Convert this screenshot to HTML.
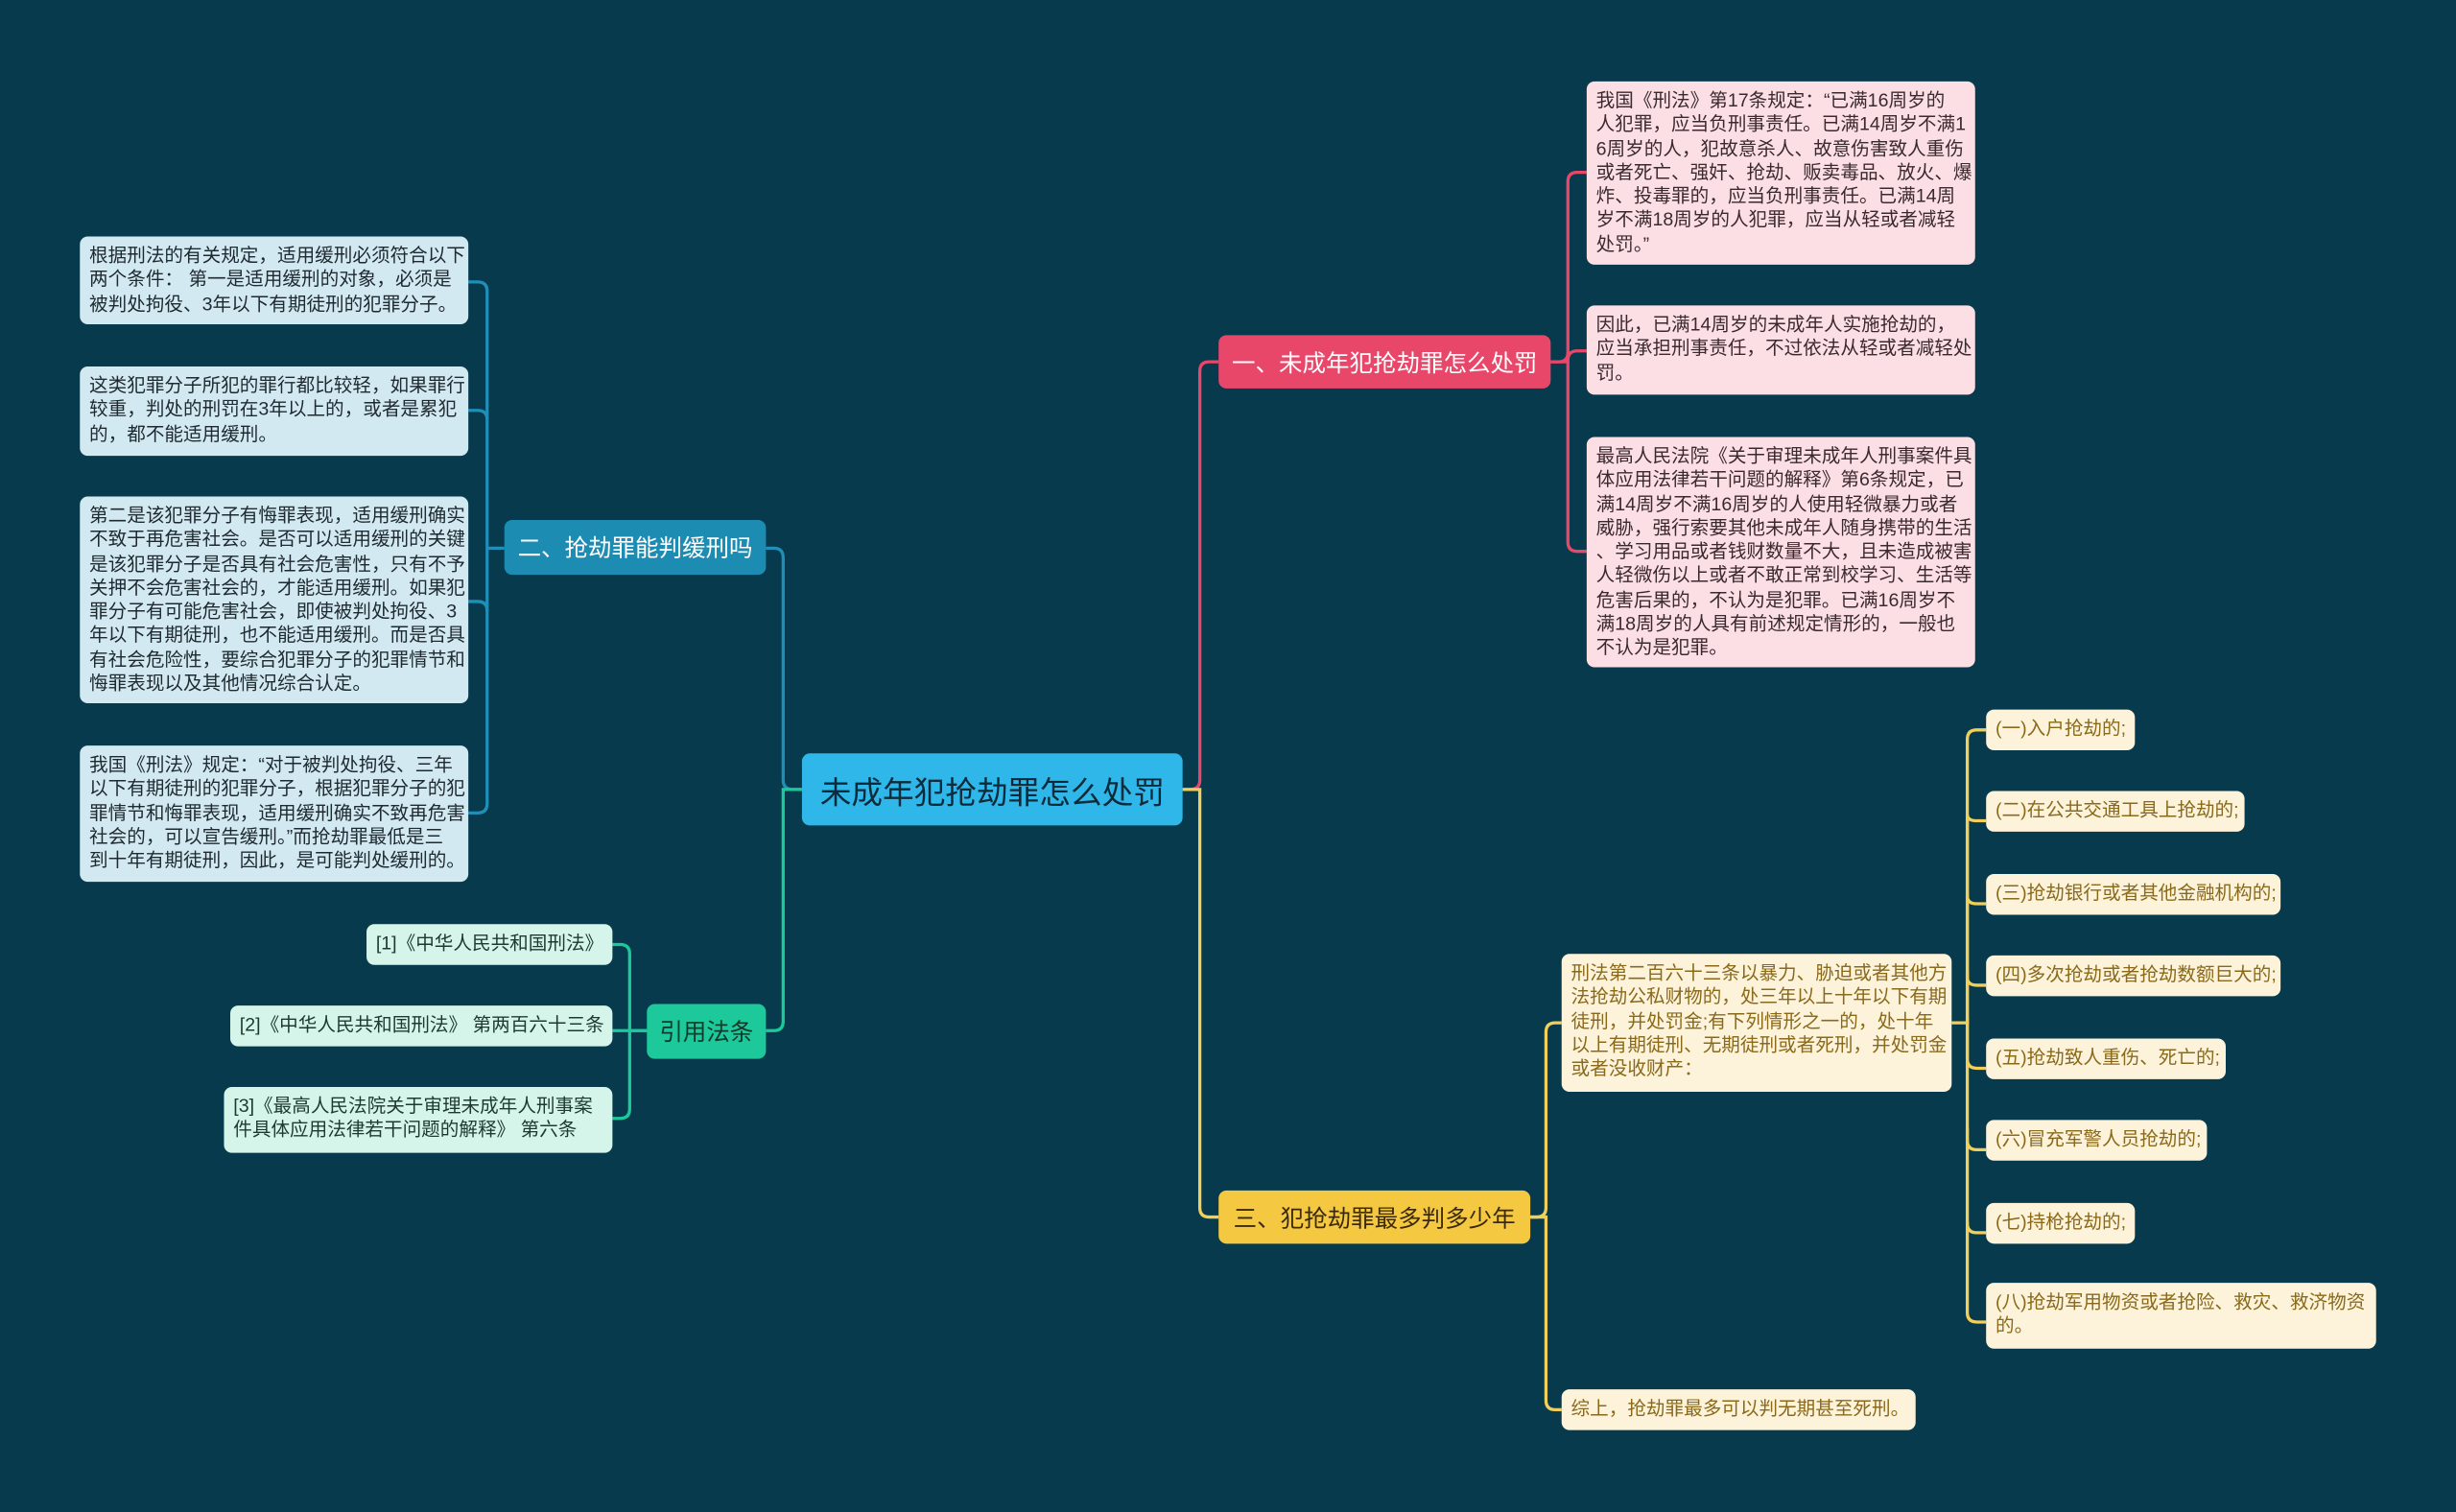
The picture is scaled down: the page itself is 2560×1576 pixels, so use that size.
<!DOCTYPE html>
<html><head><meta charset="utf-8"><style>
html,body{margin:0;padding:0;background:#073a4d;}
body{width:2560px;height:1576px;overflow:hidden;}
#s{position:absolute;left:0;top:0;width:1568px;height:965px;transform:scale(1.63265);transform-origin:0 0;font-family:"Liberation Sans","Noto Sans CJK SC",sans-serif;}
.b{position:absolute;box-sizing:border-box;border-radius:5px;white-space:nowrap;}
.t{font-size:12px;line-height:15.3px;padding:5px 6px;}
.pk{background:#fcdfe5;color:#3a2a2e;}
.bl{background:#d3e9f1;color:#1e2a30;}
.gr{background:#d6f5ea;color:#1e3a30;}
.yl{background:#fdf3da;color:#8a6a1a;}
.n{display:flex;align-items:center;justify-content:center;font-size:15px;}
</style></head><body><div id="s">
<svg width="1568" height="965" style="position:absolute;left:0;top:0" fill="none" stroke-width="2">
<g stroke="#e8476a">
<path d="M755 504 H760 Q766 504 766 498 V237 Q766 231 772 231 H778"/>
<path d="M990 231 H995 Q1001 231 1001 225 V116 Q1001 110 1007 110 H1013"/>
<path d="M1001 225 V230 Q1001 224 1007 224 H1013"/>
<path d="M990 231 H1001 V346 Q1001 352 1007 352 H1013"/>
</g>
<g stroke="#f2cf5a">
<path d="M755 504 H766 V771 Q766 777 772 777 H778"/>
<path d="M977 777 H981 Q987 777 987 771 V659 Q987 653 993 653 H997"/>
<path d="M977 777 H987 V894 Q987 900 993 900 H997"/>
<path d="M1246 653 H1256 V472 Q1256 466 1262 466 H1268"/>
<path d="M1256 520 Q1256 524 1262 524 H1268"/>
<path d="M1256 520 V572 Q1256 577 1262 577 H1268"/>
<path d="M1256 570 V624 Q1256 629 1262 629 H1268"/>
<path d="M1256 620 V676 Q1256 682 1262 682 H1268"/>
<path d="M1256 650 V728 Q1256 734 1262 734 H1268"/>
<path d="M1256 720 V781 Q1256 787 1262 787 H1268"/>
<path d="M1256 780 V838 Q1256 844 1262 844 H1268"/>
</g>
<g stroke="#1f8fb8">
<path d="M512 504 H506 Q500 504 500 498 V356 Q500 350 494 350 H489"/>
<path d="M322 350 H311 V186 Q311 180 305 180 H299"/>
<path d="M311 268 Q311 262 305 262 H299"/>
<path d="M311 390 Q311 384 305 384 H299"/>
<path d="M311 350 V513 Q311 519 305 519 H299"/>
</g>
<g stroke="#1dc99a">
<path d="M512 504 H500 V652 Q500 658 494 658 H489"/>
<path d="M413 658 H402 V609 Q402 603 396 603 H391"/>
<path d="M413 658 H391"/>
<path d="M402 658 V708 Q402 714 396 714 H391"/>
</g>
</svg>
<div class="b n" style="left:512px;top:481px;width:243px;height:46px;background:#2fb7e9;color:#0d2b3a;font-size:20px;">未成年犯抢劫罪怎么处罚</div>
<div class="b n" style="left:778px;top:214px;width:212px;height:34px;background:#e8476a;color:#fff;">一、未成年犯抢劫罪怎么处罚</div>
<div class="b n" style="left:778px;top:760px;width:199px;height:34px;background:#f5c842;color:#3a2a0a;">三、犯抢劫罪最多判多少年</div>
<div class="b n" style="left:322px;top:332px;width:167px;height:35px;background:#1c8cb3;color:#fff;">二、抢劫罪能判缓刑吗</div>
<div class="b n" style="left:413px;top:641px;width:76px;height:35px;background:#1dc99a;color:#0d3a2a;">引用法条</div>

<div class="b t pk" style="left:1013px;top:52px;width:248px;height:117px;">我国《刑法》第17条规定：“已满16周岁的<br>人犯罪，应当负刑事责任。已满14周岁不满1<br>6周岁的人，犯故意杀人、故意伤害致人重伤<br>或者死亡、强奸、抢劫、贩卖毒品、放火、爆<br>炸、投毒罪的，应当负刑事责任。已满14周<br>岁不满18周岁的人犯罪，应当从轻或者减轻<br>处罚。”</div>
<div class="b t pk" style="left:1013px;top:195px;width:248px;height:57px;">因此，已满14周岁的未成年人实施抢劫的，<br>应当承担刑事责任，不过依法从轻或者减轻处<br>罚。</div>
<div class="b t pk" style="left:1013px;top:279px;width:248px;height:147px;">最高人民法院《关于审理未成年人刑事案件具<br>体应用法律若干问题的解释》第6条规定，已<br>满14周岁不满16周岁的人使用轻微暴力或者<br>威胁，强行索要其他未成年人随身携带的生活<br>、学习用品或者钱财数量不大，且未造成被害<br>人轻微伤以上或者不敢正常到校学习、生活等<br>危害后果的，不认为是犯罪。已满16周岁不<br>满18周岁的人具有前述规定情形的，一般也<br>不认为是犯罪。</div>

<div class="b t bl" style="left:51px;top:151px;width:248px;height:56px;">根据刑法的有关规定，适用缓刑必须符合以下<br>两个条件： 第一是适用缓刑的对象，必须是<br>被判处拘役、3年以下有期徒刑的犯罪分子。</div>
<div class="b t bl" style="left:51px;top:234px;width:248px;height:57px;">这类犯罪分子所犯的罪行都比较轻，如果罪行<br>较重，判处的刑罚在3年以上的，或者是累犯<br>的，都不能适用缓刑。</div>
<div class="b t bl" style="left:51px;top:317px;width:248px;height:132px;">第二是该犯罪分子有悔罪表现，适用缓刑确实<br>不致于再危害社会。是否可以适用缓刑的关键<br>是该犯罪分子是否具有社会危害性，只有不予<br>关押不会危害社会的，才能适用缓刑。如果犯<br>罪分子有可能危害社会，即使被判处拘役、3<br>年以下有期徒刑，也不能适用缓刑。而是否具<br>有社会危险性，要综合犯罪分子的犯罪情节和<br>悔罪表现以及其他情况综合认定。</div>
<div class="b t bl" style="left:51px;top:476px;width:248px;height:87px;">我国《刑法》规定：“对于被判处拘役、三年<br>以下有期徒刑的犯罪分子，根据犯罪分子的犯<br>罪情节和悔罪表现，适用缓刑确实不致再危害<br>社会的，可以宣告缓刑。”而抢劫罪最低是三<br>到十年有期徒刑，因此，是可能判处缓刑的。</div>

<div class="b t gr" style="left:234px;top:590px;width:157px;height:26px;">[1]《中华人民共和国刑法》</div>
<div class="b t gr" style="left:147px;top:642px;width:244px;height:26px;">[2]《中华人民共和国刑法》 第两百六十三条</div>
<div class="b t gr" style="left:143px;top:694px;width:248px;height:42px;">[3]《最高人民法院关于审理未成年人刑事案<br>件具体应用法律若干问题的解释》 第六条</div>

<div class="b t yl" style="left:997px;top:609px;width:249px;height:88px;">刑法第二百六十三条以暴力、胁迫或者其他方<br>法抢劫公私财物的，处三年以上十年以下有期<br>徒刑，并处罚金;有下列情形之一的，处十年<br>以上有期徒刑、无期徒刑或者死刑，并处罚金<br>或者没收财产：</div>
<div class="b t yl" style="left:997px;top:887px;width:226px;height:26px;">综上，抢劫罪最多可以判无期甚至死刑。</div>
<div class="b t yl" style="left:1268px;top:453px;width:95px;height:26px;">(一)入户抢劫的;</div>
<div class="b t yl" style="left:1268px;top:505px;width:165px;height:26px;">(二)在公共交通工具上抢劫的;</div>
<div class="b t yl" style="left:1268px;top:558px;width:188px;height:26px;">(三)抢劫银行或者其他金融机构的;</div>
<div class="b t yl" style="left:1268px;top:610px;width:188px;height:26px;">(四)多次抢劫或者抢劫数额巨大的;</div>
<div class="b t yl" style="left:1268px;top:663px;width:153px;height:26px;">(五)抢劫致人重伤、死亡的;</div>
<div class="b t yl" style="left:1268px;top:715px;width:141px;height:26px;">(六)冒充军警人员抢劫的;</div>
<div class="b t yl" style="left:1268px;top:768px;width:95px;height:26px;">(七)持枪抢劫的;</div>
<div class="b t yl" style="left:1268px;top:819px;width:249px;height:42px;">(八)抢劫军用物资或者抢险、救灾、救济物资<br>的。</div>
</div></body></html>
